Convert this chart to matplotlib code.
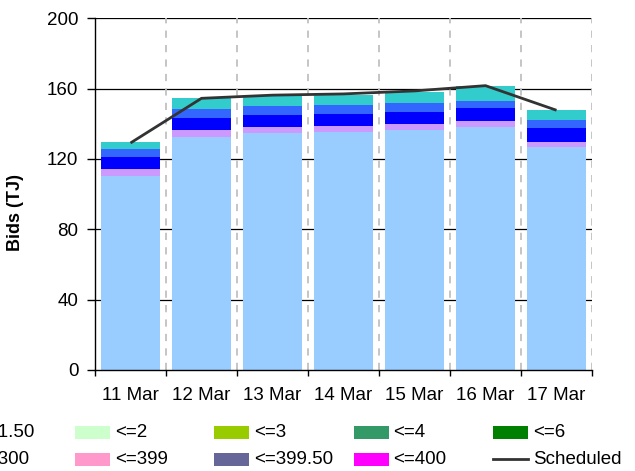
import matplotlib
matplotlib.use("Agg")
import matplotlib.pyplot as plt
from matplotlib.patches import Rectangle
from matplotlib.lines import Line2D
import numpy as np

plt.rcParams['font.family'] = ['Liberation Sans', 'DejaVu Sans']

# ---- data ----
days = ["11 Mar", "12 Mar", "13 Mar", "14 Mar", "15 Mar", "16 Mar", "17 Mar"]
band_a = [110.4, 132.4, 134.7, 135.2, 136.4, 138.1, 126.7]   # light blue
band_b = [3.8, 4.0, 3.4, 3.4, 3.4, 3.4, 2.8]                 # lilac
band_c = [7.0, 6.8, 6.8, 6.9, 6.8, 7.4, 8.0]                 # blue
band_d = [4.4, 5.1, 5.1, 5.1, 5.1, 3.9, 4.5]                 # mid blue
band_e = [3.9, 6.2, 5.9, 5.7, 6.3, 8.6, 5.7]                 # turquoise
scheduled = [129.1, 154.5, 156.3, 157.0, 158.7, 161.7, 147.7]

band_colors = ["#99CCFF", "#CC99FF", "#0000FF", "#3366FF", "#33CCCC"]

legend_labels = ["<=1.50", "<=2", "<=3", "<=4", "<=6",
                 "<=300", "<=399", "<=399.50", "<=400", "Scheduled"]
legend_colors = ["#FFFF99", "#CCFFCC", "#99CC00", "#339966", "#008000",
                 "#FFCC00", "#FF99CC", "#666699", "#FF00FF", "#333333"]

y_ticks = [0, 40, 80, 120, 160, 200]

# ---- figure ----
W, H = 635, 471
fig = plt.figure(figsize=(W / 100, H / 100), dpi=100)
ax = fig.add_axes([95 / W, 1 - 370 / H, (592 - 95) / W, (370 - 18.3) / H])

x = np.arange(len(days))
bands = [band_a, band_b, band_c, band_d, band_e]
bottom = np.zeros(len(days))
for vals, col in zip(bands, band_colors):
    ax.bar(x, vals, width=0.845, bottom=bottom, color=col, edgecolor='none', zorder=2)
    bottom += np.array(vals)

ax.plot(x, scheduled, color="#333333", lw=2.0, zorder=4, solid_capstyle='butt')

ax.set_xlim(-0.5, len(days) - 0.5)
ax.set_ylim(0, 200)
ax.set_yticks(y_ticks)
ax.set_xticks(x)
ax.set_xticklabels(days, fontsize=13.5)
ax.set_xticks(np.arange(-0.5, len(days), 1.0), minor=True)
ax.tick_params(axis='x', which='major', length=0, pad=12)
ax.tick_params(axis='x', which='minor', length=4.5, width=1, direction='out', color='black')
ax.tick_params(axis='y', length=5.5, width=1, pad=6.5, labelsize=13.5, direction='out')

# horizontal gridlines
for v in y_ticks[1:]:
    ax.axhline(v, color='black', lw=0.9, zorder=1)
# dashed vertical separators
for b in np.arange(0.5, len(days), 1.0):
    ax.axvline(b, color='#C0C0C0', lw=1.3, zorder=1, linestyle=(0, (4, 4)))

for s in ['top', 'right']:
    ax.spines[s].set_visible(False)
ax.spines['left'].set_linewidth(1.0)
ax.spines['bottom'].set_linewidth(1.0)

ax.set_ylabel("Bids (TJ)", fontsize=13, fontweight='bold')
ax.yaxis.set_label_coords(-0.143, 0.449)

# ---- legend (row-major, 5 columns, partly off-canvas on the left) ----
col_x0 = -64.0
col_step = 139.2
row_y = [432.3, 459.3]
for i, (lab, col) in enumerate(zip(legend_labels, legend_colors)):
    r, c = divmod(i, 5)
    hx = col_x0 + c * col_step
    cy = row_y[r]
    if lab == "Scheduled":
        fig.add_artist(Line2D([hx / W, (hx + 35) / W], [1 - cy / H, 1 - cy / H],
                              color=col, lw=2.0, transform=fig.transFigure))
    else:
        fig.add_artist(Rectangle((hx / W, 1 - (cy + 6.3) / H), 35 / W, 12.7 / H,
                                 facecolor=col, edgecolor='none',
                                 transform=fig.transFigure))
    fig.text((hx + 40) / W, 1 - cy / H, lab, fontsize=13.5, va='center', ha='left')

fig.savefig("out.png", dpi=100)
